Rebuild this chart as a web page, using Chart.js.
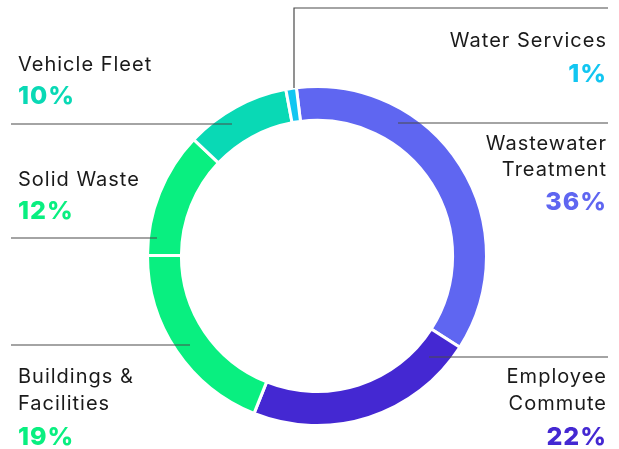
<!DOCTYPE html>
<html>
<head>
<meta charset="utf-8">
<script src="https://cdn.jsdelivr.net/npm/chart.js@4"></script>
<style>
  html, body { margin: 0; padding: 0; background: #fff; }
  #wrap { width: 619px; height: 449px; position: relative; }
</style>
</head>
<body>
<div id="wrap"><canvas id="emissionsChart" width="619" height="449"></canvas></div>
<script>
// Share of emissions by source, clockwise from the top
const categories = ['Wastewater Treatment', 'Employee Commute', 'Buildings & Facilities', 'Solid Waste', 'Vehicle Fleet', 'Water Services'];
const shares = [36, 22, 19, 12, 10, 1];
const sliceColors = ['#5f66f1', '#4428d2', '#09ef80', '#09ef80', '#09d9b5', '#12c6f1'];

// Callout text for each slice (name lines, then the percent)
const calloutLines = [
    ['Wastewater', 'Treatment'],
    ['Employee', 'Commute'],
    ['Buildings &', 'Facilities'],
    ['Solid Waste'],
    ['Vehicle Fleet'],
    ['Water Services']
];

const FONT = '"Inter", "Open Sans", sans-serif';

// Where each callout sits: side, name baselines, percent baseline, leader line
const calloutLayout = [
    { side: 'right', y: [150, 176], pctY: 210, line: [[398, 123], [608, 123]] },
    { side: 'right', y: [383, 410], pctY: 445, line: [[429, 357], [608, 357]] },
    { side: 'left',  y: [383, 410], pctY: 445, line: [[11, 345], [190, 345]] },
    { side: 'left',  y: [186],      pctY: 219, line: [[11, 238], [157, 238]] },
    { side: 'left',  y: [71],       pctY: 104, line: [[11, 124], [232, 124]] },
    { side: 'right', y: [47],       pctY: 82,  line: [[294, 88], [294, 8], [608, 8]] }
];

const calloutPlugin = {
    id: 'callouts',
    afterDraw(chart) {
        const ctx = chart.ctx;
        ctx.save();
        calloutLayout.forEach((c, i) => {
            // leader line
            ctx.beginPath();
            ctx.strokeStyle = '#4a4a4a';
            ctx.lineWidth = 1.2;
            c.line.forEach(([x, y], j) => j ? ctx.lineTo(x, y) : ctx.moveTo(x, y));
            ctx.stroke();

            const x = c.side === 'right' ? 607 : 18;
            ctx.textAlign = c.side === 'right' ? 'right' : 'left';
            ctx.textBaseline = 'alphabetic';
            ctx.letterSpacing = '1px';

            ctx.fillStyle = '#1a1a1a';
            ctx.font = '400 20px ' + FONT;
            calloutLines[i].forEach((t, k) => ctx.fillText(t, x, c.y[k]));

            ctx.fillStyle = sliceColors[i];
            ctx.font = '800 25px ' + FONT;
            ctx.fillText(shares[i] + '%', x, c.pctY);
        });
        ctx.restore();
    }
};

const ctx = document.getElementById('emissionsChart').getContext('2d');
new Chart(ctx, {
    type: 'doughnut',
    data: {
        labels: categories,
        datasets: [{
            data: shares,
            backgroundColor: sliceColors,
            borderColor: '#ffffff',
            borderWidth: 3
        }]
    },
    options: {
        responsive: false,
        animation: false,
        cutout: '80%',
        rotation: -7,
        layout: { padding: { top: 85, bottom: 22, left: 146, right: 131 } },
        plugins: {
            legend: { display: false },
            tooltip: { enabled: false }
        }
    },
    plugins: [calloutPlugin]
});
</script>
</body>
</html>
